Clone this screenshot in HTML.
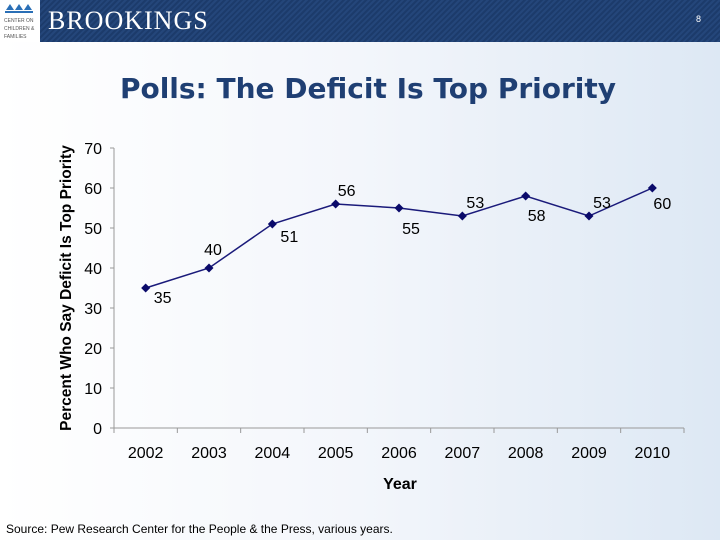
<!DOCTYPE html>
<html><head><meta charset="utf-8"><style>
body{margin:0;width:720px;height:540px;overflow:hidden;font-family:"Liberation Sans",sans-serif;position:relative;background:linear-gradient(90deg,#ffffff 0%,#f3f6fb 50%,#dde8f4 100%);}
#hdr{position:absolute;left:0;top:0;width:720px;height:42px;background:repeating-linear-gradient(135deg,#24467a 0 2px,#1c3b6b 2px 4px);}
#logo{position:absolute;left:0;top:0;width:40px;height:42px;background:#fff;}
#brand{position:absolute;left:48px;top:6px;color:#fff;font-family:"Liberation Serif",serif;font-size:26px;letter-spacing:1px;}
#pg{position:absolute;left:696px;top:14px;color:#fff;font-size:9px;}
#title{position:absolute;left:0;width:736px;top:72px;text-align:center;color:#1f3f73;font-family:"DejaVu Sans",sans-serif;font-size:28px;font-weight:bold;white-space:nowrap;}
#src{position:absolute;left:6px;top:522px;font-size:12px;color:#000;}
svg{position:absolute;left:0;top:0;}
</style></head><body>
<div id="hdr"></div>
<div id="logo">
<svg width="40" height="42"><g fill="#2a6fb6"><path d="M6 10 L10 4 L14 10Z M15 10 L19 4 L23 10Z M24 10 L28 4 L32 10Z"/><rect x="5" y="11" width="28" height="2"/></g><text x="4" y="22" font-size="5" fill="#555">CENTER ON</text><text x="4" y="30" font-size="5" fill="#555">CHILDREN &amp;</text><text x="4" y="38" font-size="5" fill="#555">FAMILIES</text></svg>
</div>
<div id="brand">BROOKINGS</div>
<div id="pg">8</div>
<div id="title">Polls: The Deficit Is Top Priority</div>
<svg id="chart" width="720" height="540"></svg>
<div id="src">Source: Pew Research Center for the People &amp; the Press, various years.</div>
<script>
const years=["2002","2003","2004","2005","2006","2007","2008","2009","2010"];
const values=[35,40,51,56,55,53,58,53,60];
const yTicks=[0,10,20,30,40,50,60,70];
// label offsets (styling, in px) relative to each marker
const labelDx=[17,4,17,11,12,13,11,13,10];
const labelDy=[15,-13,18,-8,26,-8,25,-8,21];
const NS="http://www.w3.org/2000/svg";
const svg=document.getElementById('chart');
const x0=114,x1=684,y0=428,y1=148;
const band=(x1-x0)/years.length;
const xs=i=>x0+band*(i+0.5);
const ys=v=>y0-(v/70)*(y0-y1);
function mk(t,a,p){const e=document.createElementNS(NS,t);for(const k in a)e.setAttribute(k,a[k]);(p||svg).appendChild(e);return e;}
const ax=mk('line',{x1:x0,y1:y0,x2:x1,y2:y0,stroke:'#999'});


const ay=mk('line',{x1:x0,y1:y1,x2:x0,y2:y0,stroke:'#999'});


yTicks.forEach(v=>{
 mk('line',{x1:x0-4,y1:ys(v),x2:x0,y2:ys(v),stroke:'#999'});
 const t=mk('text',{x:x0-12,y:ys(v)+6,'text-anchor':'end','font-size':16,fill:'#000'});
 t.textContent=v;
 
 
});
for(let i=0;i<=years.length;i++){mk('line',{x1:x0+band*i,y1:y0,x2:x0+band*i,y2:y0+5,stroke:'#999'});}
years.forEach((y,i)=>{
 const t=mk('text',{x:xs(i),y:458,'text-anchor':'middle','font-size':16,fill:'#000'});
 t.textContent=y;
 
 
});
const line=mk('polyline',{points:values.map((v,i)=>xs(i)+','+ys(v)).join(' '),fill:'none',stroke:'#1a1a7a','stroke-width':1.5});


values.forEach((v,i)=>{
 const cx=xs(i),cy=ys(v);
 const m=mk('polygon',{points:`${cx},${cy-4.5} ${cx+4.5},${cy} ${cx},${cy+4.5} ${cx-4.5},${cy}`,fill:'#0a0a6a'});
 
 
 const t=mk('text',{x:cx+labelDx[i],y:cy+labelDy[i],'text-anchor':'middle','font-size':16,fill:'#000'});
 t.textContent=v;
 
 
});
const xt=mk('text',{x:400,y:489,'text-anchor':'middle','font-size':16,'font-weight':'bold'});
xt.textContent='Year';


const yt=mk('text',{x:0,y:0,'text-anchor':'middle','font-size':15.5,'font-weight':'bold',transform:'translate(71,288) rotate(-90)'});
yt.textContent='Percent Who Say Deficit Is Top Priority';


</script>
</body></html>
